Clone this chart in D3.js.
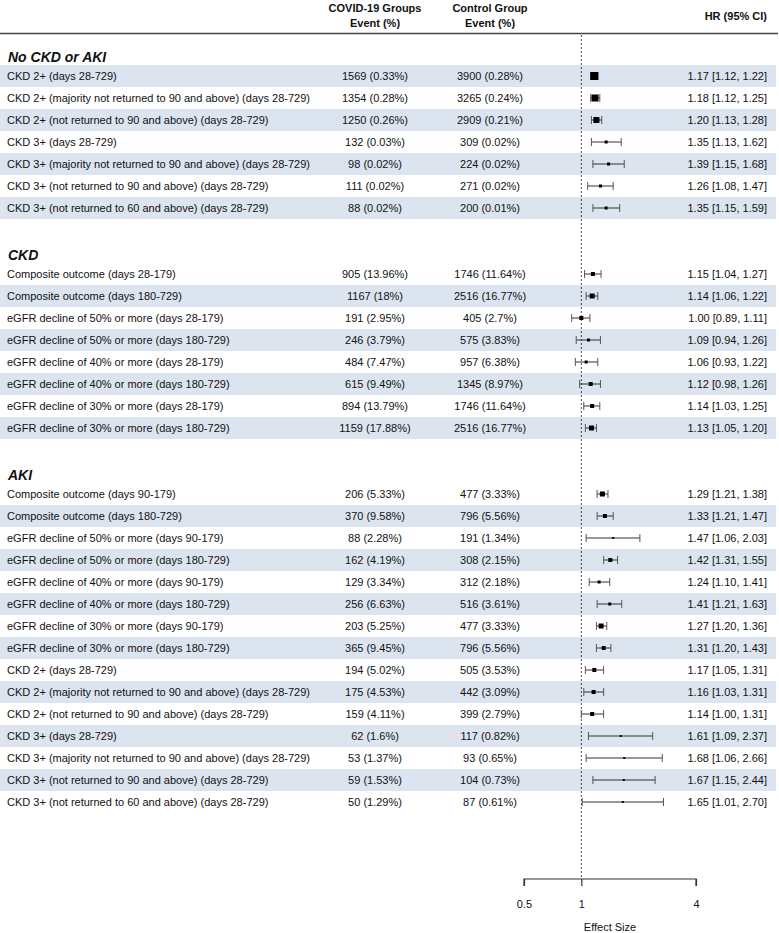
<!DOCTYPE html>
<html>
<head>
<meta charset="utf-8">
<script src="https://cdn.jsdelivr.net/npm/d3@7"></script>
<style>
  html, body { margin: 0; padding: 0; background: #fff; }
  svg { display: block; font-family: "Liberation Sans", Arial, sans-serif; }
</style>
</head>
<body>
<svg id="chart" width="779" height="933"></svg>
<script>
// sections and how many outcome rows each one has
const sections = ["No CKD or AKI", "CKD", "AKI"];
const sectionCounts = [7, 8, 15];

const outcomes = [
  "CKD 2+ (days 28-729)",
  "CKD 2+ (majority not returned to 90 and above) (days 28-729)",
  "CKD 2+ (not returned to 90 and above) (days 28-729)",
  "CKD 3+ (days 28-729)",
  "CKD 3+ (majority not returned to 90 and above) (days 28-729)",
  "CKD 3+ (not returned to 90 and above) (days 28-729)",
  "CKD 3+ (not returned to 60 and above) (days 28-729)",

  "Composite outcome (days 28-179)",
  "Composite outcome (days 180-729)",
  "eGFR decline of 50% or more (days 28-179)",
  "eGFR decline of 50% or more (days 180-729)",
  "eGFR decline of 40% or more (days 28-179)",
  "eGFR decline of 40% or more (days 180-729)",
  "eGFR decline of 30% or more (days 28-179)",
  "eGFR decline of 30% or more (days 180-729)",

  "Composite outcome (days 90-179)",
  "Composite outcome (days 180-729)",
  "eGFR decline of 50% or more (days 90-179)",
  "eGFR decline of 50% or more (days 180-729)",
  "eGFR decline of 40% or more (days 90-179)",
  "eGFR decline of 40% or more (days 180-729)",
  "eGFR decline of 30% or more (days 90-179)",
  "eGFR decline of 30% or more (days 180-729)",
  "CKD 2+ (days 28-729)",
  "CKD 2+ (majority not returned to 90 and above) (days 28-729)",
  "CKD 2+ (not returned to 90 and above) (days 28-729)",
  "CKD 3+ (days 28-729)",
  "CKD 3+ (majority not returned to 90 and above) (days 28-729)",
  "CKD 3+ (not returned to 90 and above) (days 28-729)",
  "CKD 3+ (not returned to 60 and above) (days 28-729)",
];

const covidEvents = [
  "1569 (0.33%)", "1354 (0.28%)", "1250 (0.26%)", "132 (0.03%)", "98 (0.02%)", "111 (0.02%)", "88 (0.02%)",
  "905 (13.96%)", "1167 (18%)", "191 (2.95%)", "246 (3.79%)", "484 (7.47%)", "615 (9.49%)", "894 (13.79%)", "1159 (17.88%)",
  "206 (5.33%)", "370 (9.58%)", "88 (2.28%)", "162 (4.19%)", "129 (3.34%)", "256 (6.63%)", "203 (5.25%)", "365 (9.45%)",
  "194 (5.02%)", "175 (4.53%)", "159 (4.11%)", "62 (1.6%)", "53 (1.37%)", "59 (1.53%)", "50 (1.29%)",
];

const controlEvents = [
  "3900 (0.28%)", "3265 (0.24%)", "2909 (0.21%)", "309 (0.02%)", "224 (0.02%)", "271 (0.02%)", "200 (0.01%)",
  "1746 (11.64%)", "2516 (16.77%)", "405 (2.7%)", "575 (3.83%)", "957 (6.38%)", "1345 (8.97%)", "1746 (11.64%)", "2516 (16.77%)",
  "477 (3.33%)", "796 (5.56%)", "191 (1.34%)", "308 (2.15%)", "312 (2.18%)", "516 (3.61%)", "477 (3.33%)", "796 (5.56%)",
  "505 (3.53%)", "442 (3.09%)", "399 (2.79%)", "117 (0.82%)", "93 (0.65%)", "104 (0.73%)", "87 (0.61%)",
];

const hr = [1.17, 1.18, 1.20, 1.35, 1.39, 1.26, 1.35,
  1.15, 1.14, 1.00, 1.09, 1.06, 1.12, 1.14, 1.13,
  1.29, 1.33, 1.47, 1.42, 1.24, 1.41, 1.27, 1.31, 1.17, 1.16, 1.14, 1.61, 1.68, 1.67, 1.65];
const hrLow = [1.12, 1.12, 1.13, 1.13, 1.15, 1.08, 1.15,
  1.04, 1.06, 0.89, 0.94, 0.93, 0.98, 1.03, 1.05,
  1.21, 1.21, 1.06, 1.31, 1.10, 1.21, 1.20, 1.20, 1.05, 1.03, 1.00, 1.09, 1.06, 1.15, 1.01];
const hrHigh = [1.22, 1.25, 1.28, 1.62, 1.68, 1.47, 1.59,
  1.27, 1.22, 1.11, 1.26, 1.22, 1.26, 1.25, 1.20,
  1.38, 1.47, 2.03, 1.55, 1.41, 1.63, 1.36, 1.43, 1.31, 1.31, 1.31, 2.37, 2.66, 2.44, 2.70];

// relative box weight
const weights = [8, 7, 6, 3, 3, 3, 3,
  4, 5, 4, 3, 3, 4, 4, 5,
  5, 4, 2, 4, 3, 3, 5, 4, 4, 4, 4, 2, 2, 2, 2];

const axisTicks = [0.5, 1, 4];

// ---- layout rows: header, outcomes, blank between sections
const rows = [];
let k = 0, slot = -1;
sections.forEach((name, s) => {
  rows.push({ type: "section", name, slot: slot++ });
  for (let i = 0; i < sectionCounts[s]; i++, k++) rows.push({ type: "row", idx: k, slot: slot++ });
  slot++;
});

const svg = d3.select("#chart");
const W = 779;
const y = d3.scaleLinear().domain([0, 1]).range([76, 98]);
const x = d3.scaleLog().base(2).domain([0.5, 4]).range([524, 696]);
const box = d3.scaleLinear().domain([0, 8]).range([0, 8]);
const colCovid = 375, colControl = 490, colHR = 767, colLabel = 7;
const txt = "#111";

// bands
svg.append("g").selectAll("rect")
  .data(rows.filter(r => r.type === "row" && r.slot % 2 === 0))
  .join("rect")
  .attr("x", 0).attr("width", 776)
  .attr("y", r => y(r.slot) - 11).attr("height", 22)
  .attr("fill", "#dce4f0");

// header
const head = svg.append("g").attr("font-size", 11).attr("font-weight", "bold").attr("fill", txt);
[[colCovid, ["COVID-19 Groups", "Event (%)"]], [colControl, ["Control Group", "Event (%)"]]].forEach(([cx, lines]) => {
  lines.forEach((t, i) => head.append("text").attr("x", cx).attr("y", 12 + i * 15).attr("text-anchor", "middle").text(t));
});
head.append("text").attr("x", colHR).attr("y", 20).attr("text-anchor", "end").text("HR (95% CI)");
svg.append("line").attr("x1", 0).attr("x2", 778).attr("y1", 33.5).attr("y2", 33.5)
  .attr("stroke", "#444").attr("stroke-width", 1.3);

// reference line at HR = 1
svg.append("line").attr("x1", x(1)).attr("x2", x(1)).attr("y1", 35).attr("y2", 879)
  .attr("stroke", "#333").attr("stroke-width", 0.9).attr("stroke-dasharray", "2,2");

// section headings
svg.append("g").selectAll("text")
  .data(rows.filter(r => r.type === "section"))
  .join("text")
  .attr("x", colLabel + 1).attr("y", r => y(r.slot) + 8)
  .attr("font-size", 14).attr("font-weight", "bold").attr("font-style", "italic").attr("fill", txt)
  .text(r => r.name);

// table text
const body = svg.append("g").attr("font-size", 11).attr("fill", txt);
const dataRows = rows.filter(r => r.type === "row");
const cols = [
  [colLabel, "start", r => outcomes[r.idx]],
  [colCovid, "middle", r => covidEvents[r.idx]],
  [colControl, "middle", r => controlEvents[r.idx]],
  [colHR, "end", r => `${hr[r.idx].toFixed(2)} [${hrLow[r.idx].toFixed(2)}, ${hrHigh[r.idx].toFixed(2)}]`],
];
cols.forEach(([cx, anchor, fn]) => {
  body.append("g").selectAll("text").data(dataRows).join("text")
    .attr("x", cx).attr("y", r => y(r.slot) + 4)
    .attr("text-anchor", anchor).text(fn);
});

// forest marks
const ci = svg.append("g").selectAll("g").data(dataRows).join("g")
  .attr("transform", r => `translate(0,${y(r.slot)})`);
ci.append("line")
  .attr("x1", r => x(hrLow[r.idx])).attr("x2", r => x(hrHigh[r.idx]))
  .attr("stroke", "#333").attr("stroke-width", 1);
["low", "high"].forEach(side => {
  ci.append("line")
    .attr("x1", r => x(side === "low" ? hrLow[r.idx] : hrHigh[r.idx]))
    .attr("x2", r => x(side === "low" ? hrLow[r.idx] : hrHigh[r.idx]))
    .attr("y1", -4).attr("y2", 4)
    .attr("stroke", "#555").attr("stroke-width", 1);
});
ci.append("rect")
  .attr("x", r => x(hr[r.idx]) - box(weights[r.idx]) / 2)
  .attr("y", r => -box(weights[r.idx]) / 2)
  .attr("width", r => box(weights[r.idx]))
  .attr("height", r => box(weights[r.idx]))
  .attr("fill", "#000");

// axis
const axis = svg.append("g").attr("transform", "translate(0,879)")
  .call(d3.axisBottom(x).tickValues(axisTicks).tickFormat(d3.format("")).tickSize(7).tickPadding(14));
axis.select(".domain").attr("d", `M${x(0.5)},7V0H${x(4)}V7`).attr("stroke", "#333").attr("stroke-width", 1.2);
axis.selectAll(".tick line").attr("stroke", "#333").attr("stroke-width", 1.2);
axis.selectAll(".tick text").attr("font-size", 11).attr("fill", txt)
  .attr("font-family", "Liberation Sans, Arial, sans-serif");
svg.append("text").attr("x", (x(0.5) + x(4)) / 2).attr("y", 931)
  .attr("text-anchor", "middle").attr("font-size", 11).attr("fill", txt).text("Effect Size");
</script>
</body>
</html>
